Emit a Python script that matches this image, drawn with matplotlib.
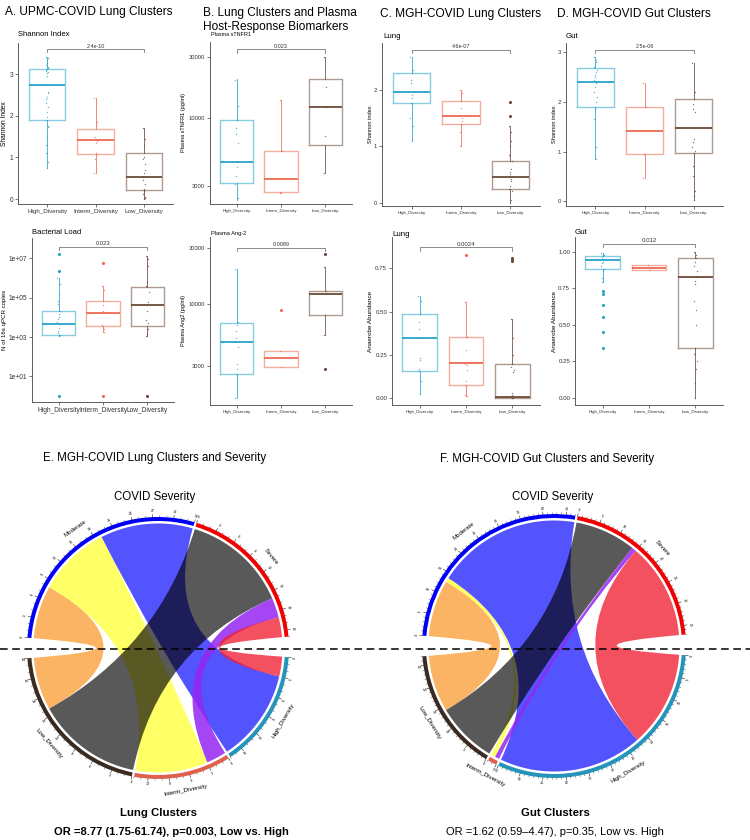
import numpy as np
import matplotlib
matplotlib.use("Agg")
import matplotlib.pyplot as plt
from matplotlib.patches import Wedge, PathPatch
from matplotlib.path import Path
from matplotlib.lines import Line2D
import matplotlib.transforms as mtrans

plt.rcParams['font.family'] = ['Liberation Sans', 'DejaVu Sans']

# ---------------- data ----------------
groups = ["High_Diversity", "Interm_Diversity", "Low_Diversity"]

# box stats per group: (whisker low, q1, median, q3, whisker high)
a1_stats = [(0.75, 1.90, 2.74, 3.12, 3.42), (0.63, 1.08, 1.43, 1.69, 2.42), (0.0, 0.22, 0.53, 1.10, 1.70)]
a1_pts = [[3.42, 3.38, 3.33, 3.28, 3.22, 3.18, 3.15, 3.12, 3.1, 3.08, 3.05, 3.02, 2.95, 2.75, 2.58, 2.55,
           2.45, 2.4, 2.3, 2.2, 2.1, 1.97, 1.9, 1.75, 1.72, 1.5, 1.3, 1.1, 0.9, 0.75],
          [2.42, 1.85, 1.78, 1.48, 1.45, 1.4, 1.35, 1.1, 0.95, 0.63],
          [1.7, 1.45, 1.3, 1.0, 0.95, 0.85, 0.7, 0.62, 0.53, 0.45, 0.35, 0.25, 0.2, 0.12, 0.05, 0.02, 0.0]]
a1_out = [[], [], []]

a2_stats = [(1.1e3, 1.3e3, 4.5e3, 2.2e4, 1.0e6), (1.8e3, 3.5e3, 1.7e4, 7.0e4, 4.0e5), (1.1e3, 3.8e3, 4.3e4, 3.3e5, 1.3e7)]
a2_pts = [[1e6, 5e5, 1.5e5, 7e4, 5e4, 2e4, 1.5e4, 1e4, 8e3, 6e3, 4.5e3, 3e3, 2e3, 1.6e3, 1.3e3, 1.2e3, 1.1e3],
          [4e5, 2.5e5, 4e4, 2e4, 4e3, 2.5e3, 1.8e3],
          [1.3e7, 9e6, 4e6, 6e5, 4e5, 2e5, 6e4, 4e4, 2e4, 7e3, 5e3, 2.5e3, 1.5e3, 1.1e3]]
a2_out = [[1.6e7, 2.2e6, 1.0], [6e6, 1.0], [1.0]]

b1_stats = [(2330, 3170, 4560, 9800, 20400), (2650, 2670, 3370, 5610, 13900), (3750, 6200, 12300, 20300, 30000)]
b1_pts = [[20000, 12500, 9800, 8400, 7600, 6500, 4600, 4200, 3600, 3100, 2400],
          [13900, 5600, 3400, 2700, 2650],
          [30000, 17600, 12300, 7300, 3750]]
b1_out = [[], [], []]

b2_stats = [(1590, 2540, 4730, 6940, 19800), (2950, 2950, 3460, 4000, 4000), (5460, 8070, 12100, 12900, 20700)]
b2_pts = [[19800, 7000, 6600, 5900, 5200, 4300, 3100, 2800, 2540, 1600],
          [4000, 3460, 2950],
          [20700, 12900, 12100, 8070, 5460]]
b2_out = [[], [9000], [26500, 2790]]

c1_stats = [(1.10, 1.77, 1.97, 2.30, 2.59), (1.00, 1.39, 1.53, 1.80, 2.00), (0.0, 0.24, 0.46, 0.73, 1.36)]
c1_pts = [[2.59, 2.35, 2.3, 2.18, 2.12, 1.97, 1.9, 1.85, 1.77, 1.5, 1.35, 1.1],
          [2.0, 1.95, 1.8, 1.68, 1.53, 1.5, 1.45, 1.39, 1.25, 1.0],
          [1.36, 1.25, 1.1, 1.0, 0.85, 0.73, 0.6, 0.55, 0.5, 0.46, 0.42, 0.38, 0.3, 0.24, 0.2, 0.05, 0.0]]
c1_out = [[], [], [1.78, 1.54]]

d1_stats = [(0.84, 1.89, 2.41, 2.68, 2.90), (0.46, 0.95, 1.42, 1.90, 2.39), (0.03, 0.97, 1.48, 2.05, 2.78)]
d1_pts = [[2.9, 2.85, 2.8, 2.75, 2.7, 2.65, 2.6, 2.55, 2.5, 2.45, 2.41, 2.38, 2.3, 2.2, 2.1, 2.0, 1.9, 1.85, 1.65, 1.1, 0.84],
          [2.39, 1.9, 1.42, 0.95, 0.46],
          [2.78, 2.2, 2.05, 1.95, 1.85, 1.8, 1.48, 1.25, 1.2, 1.1, 1.02, 0.97, 0.7, 0.5, 0.2, 0.1, 0.03]]
d1_out = [[], [], []]

c2_stats = [(0.023, 0.158, 0.346, 0.485, 0.592), (0.013, 0.077, 0.204, 0.356, 0.554), (0.0, 0.0, 0.006, 0.20, 0.458)]
c2_pts = [[0.592, 0.56, 0.485, 0.44, 0.4, 0.346, 0.23, 0.22, 0.17, 0.158, 0.1, 0.023],
          [0.554, 0.356, 0.28, 0.21, 0.2, 0.19, 0.16, 0.1, 0.077, 0.02, 0.013],
          [0.458, 0.35, 0.25, 0.2, 0.18, 0.16, 0.15, 0.03, 0.02, 0.01, 0.006, 0.0, 0.0]]
c2_out = [[], [0.827], [0.81, 0.80, 0.79]]

d2_stats = [(0.79, 0.884, 0.942, 0.97, 0.988), (0.877, 0.877, 0.89, 0.907, 0.907), (0.0, 0.342, 0.83, 0.96, 0.995)]
d2_pts = [[0.988, 0.98, 0.975, 0.97, 0.96, 0.95, 0.942, 0.93, 0.92, 0.9, 0.884, 0.87, 0.82, 0.79],
          [0.907, 0.89, 0.877],
          [0.995, 0.98, 0.96, 0.93, 0.9, 0.87, 0.83, 0.8, 0.78, 0.66, 0.6, 0.5, 0.342, 0.3, 0.25, 0.2, 0.1, 0.0]]
d2_out = [[0.733, 0.709, 0.635, 0.551, 0.449, 0.344], [], []]

# chord data: counts per severity for clusters [Low, Interm, High]
clusters = ["Low_Diversity", "Interm_Diversity", "High_Diversity"]
severity = ["Moderate", "Severe"]
lung_moderate = [8, 11, 14]
lung_severe = [16, 3, 3]
gut_moderate = [13, 1, 33]
gut_severe = [14, 1, 22]

# ---------------- figure ----------------
W, H = 750, 840
fig = plt.figure(figsize=(7.5, 8.4), dpi=100)


def fx(px):
    return px / W


def fy(py):
    return 1 - py / H


def add_ax(l, r, t, b):
    return fig.add_axes([fx(l), fy(b), (r - l) / W, (b - t) / H])


GCOL = ["#27A3CB", "#EE6A52", "#6B4A38"]
AXC = "#444444"


def style(ax):
    for s in ["top", "right"]:
        ax.spines[s].set_visible(False)
    for s in ["left", "bottom"]:
        ax.spines[s].set_color(AXC)
        ax.spines[s].set_linewidth(0.6)
    ax.tick_params(length=2, width=0.5, color=AXC, pad=1.5)


def boxpanel(ax, stats, pts, outs, ylim, log=False, ticks=None, ticklabels=None,
             yfs=4.5, xfs=3.2, subtitle="", subfs=5.5, bracket_y=None, blabel="", bfs=4.0):
    style(ax)
    if log:
        ax.set_yscale("log")
    ax.set_xlim(0.4, 3.6)
    ax.set_ylim(*ylim)
    for i in range(3):
        lo, q1, med, q3, hi = stats[i]
        c = GCOL[i]
        st = dict(whislo=lo, q1=q1, med=med, q3=q3, whishi=hi, fliers=[])
        ax.bxp([st], positions=[i + 1], widths=0.75, showfliers=False, showcaps=False,
               boxprops=dict(color=c, alpha=0.55, lw=1.0),
               whiskerprops=dict(color=c, alpha=0.8, lw=0.7),
               medianprops=dict(color=c, lw=1.3), manage_ticks=False)
        p = pts[i]
        offs = np.array([((k * 7) % 9 - 4) * 0.007 for k in range(len(p))])
        ax.scatter(i + 1 + offs, p, s=1.0, color=c, alpha=0.75, lw=0, zorder=3)
        if outs[i]:
            ax.scatter(np.full(len(outs[i]), i + 1.0), outs[i], s=5, color=c, lw=0, zorder=3)
    ax.set_xticks([1, 2, 3])
    ax.set_xticklabels(groups, fontsize=xfs, color="#333333")
    if ticks is not None:
        ax.set_yticks(ticks)
        ax.set_yticklabels(ticklabels, fontsize=yfs, color="#333333")
        ax.minorticks_off()
    if bracket_y is not None:
        tr = mtrans.blended_transform_factory(ax.transData, ax.transAxes)
        ya = ax.transAxes.inverted().transform(ax.transData.transform((1, bracket_y)))[1]
        ax.plot([1, 1, 3, 3], [ya - 0.02, ya, ya, ya - 0.02], transform=tr, color="#777777",
                lw=0.6, clip_on=False)
        ax.text(2, ya + 0.004, blabel, transform=tr, ha="center", va="bottom", fontsize=bfs,
                color="#333333")


def ftext(px, py, s, **kw):
    fig.text(fx(px), fy(py), s, **kw)


# Row 1
axA1 = add_ax(18, 173, 43, 204)
boxpanel(axA1, a1_stats, a1_pts, a1_out, (-0.12, 3.75), ticks=[0, 1, 2, 3],
         ticklabels=["0", "1", "2", "3"], yfs=4.8, xfs=4.5, bracket_y=3.6, blabel="2.4e-10", bfs=3.9)
axB1 = add_ax(210, 352, 42, 204)
boxpanel(axB1, b1_stats, b1_pts, b1_out, (10 ** 3.336, 10 ** 4.594), log=True,
         ticks=[3000, 10000, 30000], ticklabels=["3000", "10000", "30000"], yfs=4.2, xfs=3.2,
         bracket_y=34400, blabel="0.023", bfs=4.0)
axC1 = add_ax(382, 540, 43, 206)
boxpanel(axC1, c1_stats, c1_pts, c1_out, (-0.06, 2.83), ticks=[0, 1, 2], ticklabels=["0", "1", "2"],
         yfs=4.3, xfs=3.2, bracket_y=2.71, blabel="4.6e-07", bfs=3.9)
axD1 = add_ax(566, 723, 43, 206)
boxpanel(axD1, d1_stats, d1_pts, d1_out, (-0.1, 3.19), ticks=[0, 1, 2, 3],
         ticklabels=["0", "1", "2", "3"], yfs=4.3, xfs=3.2, bracket_y=3.05, blabel="2.5e-06", bfs=3.9)

# Row 2
axA2 = add_ax(32, 174, 238, 402)
boxpanel(axA2, a2_stats, a2_pts, a2_out, (10 ** -0.3, 10 ** 8.03), log=True,
         ticks=[1e1, 1e3, 1e5, 1e7], ticklabels=["1e+01", "1e+03", "1e+05", "1e+07"], yfs=4.8, xfs=4.8,
         bracket_y=10 ** 7.57, blabel="0.023", bfs=4.2)
axB2 = add_ax(210, 352, 237, 405)
boxpanel(axB2, b2_stats, b2_pts, b2_out, (10 ** 3.144, 10 ** 4.57), log=True,
         ticks=[3000, 10000, 30000], ticklabels=["3000", "10000", "30000"], yfs=4.2, xfs=3.2,
         bracket_y=30200, blabel="0.0089", bfs=4.0)
axC2 = add_ax(392, 540, 237, 405)
boxpanel(axC2, c2_stats, c2_pts, c2_out, (-0.039, 0.93), ticks=[0, 0.25, 0.5, 0.75],
         ticklabels=["0.00", "0.25", "0.50", "0.75"], yfs=4.4, xfs=3.2, bracket_y=0.871, blabel="0.0024", bfs=4.3)
axD2 = add_ax(575, 723, 237, 405)
boxpanel(axD2, d2_stats, d2_pts, d2_out, (-0.047, 1.10), ticks=[0, 0.25, 0.5, 0.75, 1.0],
         ticklabels=["0.00", "0.25", "0.50", "0.75", "1.00"], yfs=4.4, xfs=3.2, bracket_y=1.053,
         blabel="0.012", bfs=4.4)

# Titles
TFS = 8.6
ftext(5, 12, "A. UPMC-COVID Lung Clusters", fontsize=TFS, va="center", ha="left")
ftext(203, 13, "B. Lung Clusters and Plasma", fontsize=TFS, va="center", ha="left")
ftext(203, 27, "Host-Response Biomarkers", fontsize=TFS, va="center", ha="left")
ftext(380, 14, "C. MGH-COVID Lung Clusters", fontsize=TFS, va="center", ha="left")
ftext(557, 14, "D. MGH-COVID Gut Clusters", fontsize=TFS, va="center", ha="left")

# subtitles
ftext(18, 35, "Shannon Index", fontsize=5.5, va="center")
ftext(211, 34, "Plasma sTNFR1", fontsize=3.9, va="center")
ftext(383, 37, "Lung", fontsize=5.7, va="center")
ftext(566, 36, "Gut", fontsize=5.7, va="center")
ftext(32, 233, "Bacterial Load", fontsize=5.5, va="center")
ftext(211, 233, "Plasma Ang-2", fontsize=4.1, va="center")
ftext(392, 234, "Lung", fontsize=5.7, va="center")
ftext(575, 233, "Gut", fontsize=5.8, va="center")

# y labels
ftext(5, 124, "Shannon Index", fontsize=4.8, rotation=90, va="center", ha="center")
ftext(5, 320, "N of 16s qPCR copies", fontsize=4.4, rotation=90, va="center", ha="center")
ftext(184, 123, "Plasma sTNFR1 (pg/ml)", fontsize=4.0, rotation=90, va="center", ha="center")
ftext(184, 321, "Plasma Ang2 (pg/ml)", fontsize=4.0, rotation=90, va="center", ha="center")
ftext(371, 124, "Shannon index", fontsize=4.1, rotation=90, va="center", ha="center")
ftext(371, 321, "Anaerobe Abundance", fontsize=4.6, rotation=90, va="center", ha="center")
ftext(555, 124, "Shannon index", fontsize=4.1, rotation=90, va="center", ha="center")
ftext(555, 321, "Anaerobe Abundance", fontsize=4.6, rotation=90, va="center", ha="center")

# ---------------- chord diagrams ----------------
SECT_COL = {"Moderate": "#0000F5", "Severe": "#F00000", "High_Diversity": "#2594BA",
            "Interm_Diversity": "#E0604E", "Low_Diversity": "#3A2A1F"}
LINK_COL = {("Moderate", "Low_Diversity"): (0.98, 0.62, 0.22, 0.78),
            ("Moderate", "Interm_Diversity"): (1.0, 1.0, 0.0, 0.6),
            ("Moderate", "High_Diversity"): (0.0, 0.0, 1.0, 0.67),
            ("Severe", "Low_Diversity"): (0.0, 0.0, 0.0, 0.65),
            ("Severe", "Interm_Diversity"): (0.58, 0.15, 0.95, 0.85),
            ("Severe", "High_Diversity"): (0.94, 0.12, 0.2, 0.78)}


def pol(r, a):
    t = np.radians(a)
    return r * np.cos(t), r * np.sin(t)


def ribbon(r, A0, A1, B0, B1):
    verts, codes = [], []
    ta = np.linspace(A0, A1, 40)
    for k, a in enumerate(ta):
        verts.append(pol(r, a))
        codes.append(Path.MOVETO if k == 0 else Path.LINETO)
    verts += [(0, 0), pol(r, B0)]
    codes += [Path.CURVE3, Path.CURVE3]
    for a in np.linspace(B0, B1, 40)[1:]:
        verts.append(pol(r, a))
        codes.append(Path.LINETO)
    verts += [(0, 0), pol(r, A0)]
    codes += [Path.CURVE3, Path.CURVE3]
    verts.append((0, 0))
    codes.append(Path.CLOSEPOLY)
    return Path(verts, codes)


def norm_rot(a):
    r = a - 90
    while r > 90:
        r -= 180
    while r <= -90:
        r += 180
    return r


def chord(ax, mod, sev, step, R=131.0):
    mat = {"Moderate": dict(zip(clusters, mod)), "Severe": dict(zip(clusters, sev))}
    totals = {"Moderate": sum(mod), "Severe": sum(sev)}
    for j, c in enumerate(clusters):
        totals[c] = mod[j] + sev[j]
    order = ["Moderate", "Severe", "High_Diversity", "Interm_Diversity", "Low_Diversity"]
    G, g = 9.0, 1.0
    gaps = [g, G, g, g, G]
    n2 = sum(totals[s] for s in order)
    d = (360 - 2 * G - 3 * g) / n2
    start = {}
    a = 180 - G / 2
    for s, gp in zip(order, gaps):
        start[s] = a
        a -= totals[s] * d + gp
    ptr = {s: 0 for s in order}
    seg = {}
    for sv in severity:
        for c in clusters:
            n = mat[sv][c]
            seg[(sv, c, 0)] = (ptr[sv], ptr[sv] + n)
            ptr[sv] += n
    for c in ["High_Diversity", "Interm_Diversity", "Low_Diversity"]:
        for sv in ["Severe", "Moderate"]:
            n = mat[sv][c]
            seg[(sv, c, 1)] = (ptr[c], ptr[c] + n)
            ptr[c] += n
    RL = R - 6.5
    for sv in severity:
        for c in clusters:
            if mat[sv][c] == 0:
                continue
            a0, a1 = seg[(sv, c, 0)]
            b0, b1 = seg[(sv, c, 1)]
            p = ribbon(RL, start[sv] - a0 * d, start[sv] - a1 * d, start[c] - b0 * d, start[c] - b1 * d)
            ax.add_patch(PathPatch(p, fc=LINK_COL[(sv, c)], ec="none", lw=0))
    for s in order:
        s0 = start[s]
        s1 = s0 - totals[s] * d
        ax.add_patch(Wedge((0, 0), R, s1, s0, width=4.0, fc=SECT_COL[s], ec="none"))
        for u in range(0, totals[s] + 1):
            ang = s0 - u * d
            major = (u % step == 0)
            x0, y0 = pol(R, ang)
            x1, y1 = pol(R + (2.6 if major else 1.4), ang)
            ax.plot([x0, x1], [y0, y1], color="black", lw=0.35 if major else 0.25)
            if major:
                tx, ty = pol(R + 5.8, ang)
                ax.text(tx, ty, str(u), fontsize=2.6, ha="center", va="center",
                        rotation=norm_rot(ang), rotation_mode="anchor")
        mid = (s0 + s1) / 2
        lx, ly = pol(R + 14, mid)
        ax.text(lx, ly, s, fontsize=4.4, ha="center", va="center", rotation=norm_rot(mid),
                rotation_mode="anchor")


HS = 180
axE = fig.add_axes([fx(158 - HS), fy(648 + HS), 2 * HS / W, 2 * HS / H])
axE.set_xlim(-HS, HS)
axE.set_ylim(-HS, HS)
axE.axis("off")
chord(axE, lung_moderate, lung_severe, 3, R=131)

axF = fig.add_axes([fx(554 - HS), fy(646 + HS), 2 * HS / W, 2 * HS / H])
axF.set_xlim(-HS, HS)
axF.set_ylim(-HS, HS)
axF.axis("off")
chord(axF, gut_moderate, gut_severe, 5, R=132)

ftext(43, 458, "E. MGH-COVID Lung Clusters and Severity", fontsize=8.3, va="center")
ftext(440, 459, "F. MGH-COVID Gut Clusters and Severity", fontsize=8.3, va="center")
ftext(155, 497, "COVID Severity", fontsize=8.3, va="center", ha="center")
ftext(553, 497, "COVID Severity", fontsize=8.3, va="center", ha="center")
ftext(158, 813, "Lung Clusters", fontsize=8.2, va="center", ha="center", fontweight="bold")
ftext(171, 832, "OR =8.77 (1.75-61.74), p=0.003, Low vs. High", fontsize=8.0, va="center",
      ha="center", fontweight="bold")
ftext(555, 813, "Gut Clusters", fontsize=8.2, va="center", ha="center", fontweight="bold")
ftext(555, 832, "OR =1.62 (0.59\u20134.47), p=0.35, Low vs. High", fontsize=8.0, va="center", ha="center")

fig.add_artist(Line2D([0, 1], [fy(649), fy(649)], transform=fig.transFigure, color="black",
                      lw=1.1, ls=(0, (5, 3)), zorder=20))

fig.savefig("out.png", dpi=100)
